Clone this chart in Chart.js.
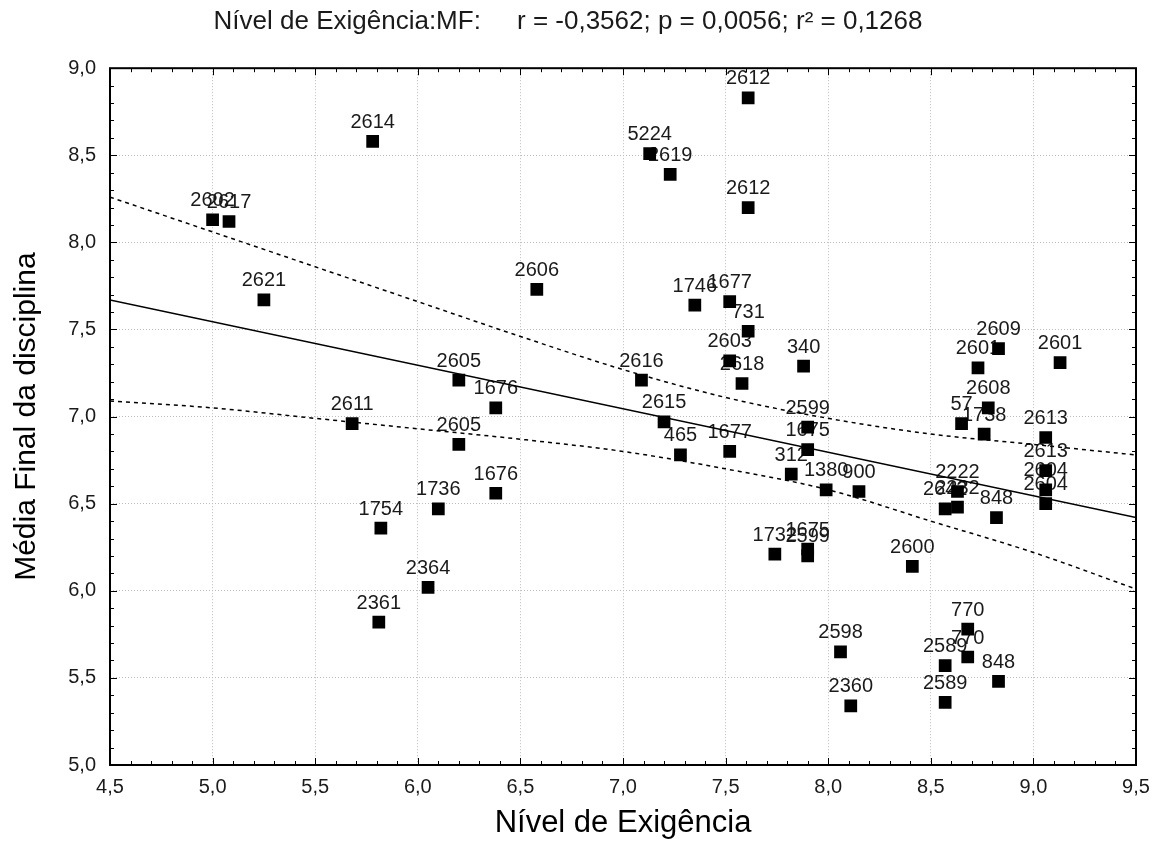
<!DOCTYPE html>
<html>
<head>
<meta charset="utf-8">
<script src="https://cdn.jsdelivr.net/npm/chart.js@4"></script>
<style>
  html, body { margin: 0; padding: 0; background: #fff; }
  #wrap { width: 1154px; height: 856px; }
</style>
</head>
<body>
<div id="wrap"><canvas id="chart1"></canvas></div>
<script>
// point data
const codes = ['2614', '2602', '2617', '2621', '2612', '5224', '2619', '2612', '1746', '1677',
    '731', '2603', '2618', '340', '2616', '2615', '465', '1677', '2599', '1675',
    '312', '1380', '900', '1732', '1675', '2599', '2609', '2601', '2601', '2608',
    '57', '1738', '2613', '2613', '2604', '2604', '2222', '2232', '2642', '848',
    '2600', '2605', '1676', '2611', '2605', '1676', '1736', '1754', '2364', '2361',
    '2606', '2598', '2360', '770', '770', '2589', '2589', '848'];
const exigencia = [5.78, 5.00, 5.08, 5.25, 7.61, 7.13, 7.23, 7.61, 7.35, 7.52,
    7.61, 7.52, 7.58, 7.88, 7.09, 7.20, 7.28, 7.52, 7.90, 7.90,
    7.82, 7.99, 8.15, 7.74, 7.90, 7.90, 8.83, 8.73, 9.13, 8.78,
    8.65, 8.76, 9.06, 9.06, 9.06, 9.06, 8.63, 8.63, 8.57, 8.82,
    8.41, 6.20, 6.38, 5.68, 6.20, 6.38, 6.10, 5.82, 6.05, 5.81,
    6.58, 8.06, 8.11, 8.68, 8.68, 8.57, 8.57, 8.83];
const mediaFinal = [8.58, 8.13, 8.12, 7.67, 8.83, 8.51, 8.39, 8.20, 7.64, 7.66,
    7.49, 7.32, 7.19, 7.29, 7.21, 6.97, 6.78, 6.80, 6.94, 6.81,
    6.67, 6.58, 6.57, 6.21, 6.24, 6.20, 7.39, 7.28, 7.31, 7.05,
    6.96, 6.90, 6.88, 6.69, 6.58, 6.50, 6.57, 6.48, 6.47, 6.42,
    6.14, 7.21, 7.05, 6.96, 6.84, 6.56, 6.47, 6.36, 6.02, 5.82,
    7.73, 5.65, 5.34, 5.78, 5.62, 5.57, 5.36, 5.48];

// fitted line and 95% band, read at the axis positions
const fitX = [4.5, 9.5];
const fitY = [7.67, 6.42];
const bandX = [4.5, 5.0, 5.5, 6.0, 6.5, 7.0, 7.5, 8.0, 8.5, 9.0, 9.5];
const bandUpper = [8.26, 8.06, 7.86, 7.66, 7.46, 7.27, 7.11, 6.99, 6.90, 6.84, 6.78];
const bandLower = [7.09, 7.05, 6.99, 6.93, 6.87, 6.80, 6.70, 6.58, 6.40, 6.22, 6.01];

const chartTitle = 'Nível de Exigência:MF:     r = -0,3562; p = 0,0056; r² = 0,1268';

const FONT = 'Liberation Sans, Arial, sans-serif';
const toPts = (xs, ys) => xs.map((x, i) => ({ x: x, y: ys[i] }));
const comma = v => v.toFixed(1).replace('.', ',');

// labels above the markers, drawn before the squares so these cover them
const pointLabels = {
    id: 'pointLabels',
    beforeDatasetsDraw(chart) {
        const ctx = chart.ctx;
        const xs = chart.scales.x, ys = chart.scales.y;
        ctx.save();
        ctx.font = '20px ' + FONT;
        ctx.fillStyle = '#1a1a1a';
        ctx.textAlign = 'center';
        ctx.textBaseline = 'middle';
        codes.forEach((c, i) => {
            ctx.fillText(c, xs.getPixelForValue(exigencia[i]), ys.getPixelForValue(mediaFinal[i]) - 19);
        });
        ctx.restore();
    }
};

// black frame with inward major/minor ticks
const frame = {
    id: 'frame',
    afterDraw(chart) {
        const ctx = chart.ctx;
        const a = chart.chartArea;
        const xs = chart.scales.x, ys = chart.scales.y;
        ctx.save();
        ctx.strokeStyle = '#000';
        ctx.lineWidth = 1;
        ctx.beginPath();
        for (let k = 45; k <= 95; k++) {
            const px = Math.round(xs.getPixelForValue(k / 10)) + 0.5;
            const len = k % 5 === 0 ? 7 : 4;
            ctx.moveTo(px, a.bottom); ctx.lineTo(px, a.bottom - len);
            ctx.moveTo(px, a.top); ctx.lineTo(px, a.top + len);
        }
        for (let k = 50; k <= 90; k++) {
            const py = Math.round(ys.getPixelForValue(k / 10)) + 0.5;
            const len = k % 5 === 0 ? 7 : 4;
            ctx.moveTo(a.left, py); ctx.lineTo(a.left + len, py);
            ctx.moveTo(a.right, py); ctx.lineTo(a.right - len, py);
        }
        ctx.stroke();
        ctx.lineWidth = 2;
        ctx.strokeRect(a.left, a.top, a.right - a.left, a.bottom - a.top);
        ctx.restore();
    }
};

const ctx1 = document.getElementById('chart1').getContext('2d');
new Chart(ctx1, {
    type: 'scatter',
    data: {
        datasets: [{
            label: 'Casos',
            data: toPts(exigencia, mediaFinal),
            pointStyle: 'rect',
            pointRadius: 9,
            pointHoverRadius: 9,
            backgroundColor: '#000',
            borderColor: '#000',
            borderWidth: 0,
            order: 0
        }, {
            type: 'line',
            label: 'Ajuste',
            data: toPts(fitX, fitY),
            borderColor: '#000',
            borderWidth: 1.5,
            pointRadius: 0,
            fill: false,
            order: 1
        }, {
            type: 'line',
            label: 'IC 95% sup',
            data: toPts(bandX, bandUpper),
            borderColor: '#000',
            borderWidth: 1.5,
            borderDash: [4, 4],
            pointRadius: 0,
            cubicInterpolationMode: 'monotone',
            fill: false,
            order: 1
        }, {
            type: 'line',
            label: 'IC 95% inf',
            data: toPts(bandX, bandLower),
            borderColor: '#000',
            borderWidth: 1.5,
            borderDash: [4, 4],
            pointRadius: 0,
            cubicInterpolationMode: 'monotone',
            fill: false,
            order: 1
        }]
    },
    options: {
        responsive: true,
        maintainAspectRatio: false,
        animation: false,
        layout: { padding: { right: 18 } },
        plugins: {
            legend: { display: false },
            tooltip: { enabled: false },
            title: {
                display: true,
                text: chartTitle,
                color: '#1a1a1a',
                font: { family: FONT, size: 26, weight: 'normal' },
                padding: { top: 6, bottom: 31 }
            }
        },
        scales: {
            x: {
                type: 'linear',
                min: 4.5,
                max: 9.5,
                afterFit: s => { s.height = 91; s.paddingRight = 0; },
                ticks: {
                    stepSize: 0.5,
                    padding: 10,
                    color: '#1a1a1a',
                    font: { family: FONT, size: 20 },
                    callback: comma
                },
                grid: { color: '#bdbdbd', lineWidth: 1, drawTicks: false },
                border: { display: false, dash: [1, 2] },
                title: {
                    display: true,
                    text: 'Nível de Exigência',
                    color: '#000',
                    font: { family: FONT, size: 31 },
                    padding: { bottom: 14 }
                }
            },
            y: {
                type: 'linear',
                min: 5,
                max: 9,
                afterFit: s => { s.width = 110; },
                ticks: {
                    stepSize: 0.5,
                    padding: 14,
                    color: '#1a1a1a',
                    font: { family: FONT, size: 20 },
                    callback: comma
                },
                grid: { color: '#bdbdbd', lineWidth: 1, drawTicks: false },
                border: { display: false, dash: [1, 2] },
                title: {
                    display: true,
                    text: 'Média Final da disciplina',
                    color: '#000',
                    font: { family: FONT, size: 30 },
                    padding: { top: 9 }
                }
            }
        }
    },
    plugins: [pointLabels, frame]
});
</script>
</body>
</html>
